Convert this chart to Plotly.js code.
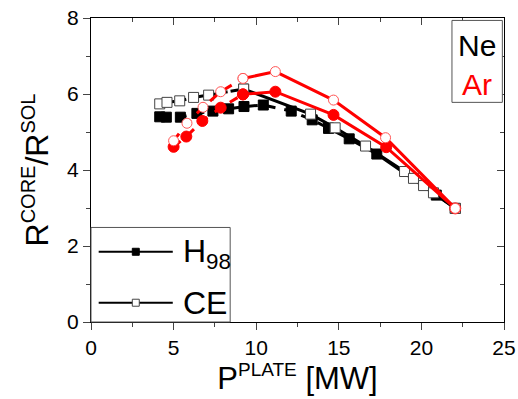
<!DOCTYPE html>
<html><head><meta charset="utf-8">
<script src="https://cdn.plot.ly/plotly-3.0.1.min.js"></script>
<style>html,body{margin:0;padding:0;background:#fff}#g{width:518px;height:399px}</style>
</head><body><div id="g"></div>
<script>
// Ne, H98 scaling (filled squares)
const neH98LowX  = [4.16,4.56,5.41,6.41,7.38,8.33,9.26,10.43,12.12,13.39,14.38];
const neH98LowY  = [5.40,5.39,5.39,5.49,5.55,5.61,5.67,5.71,5.55,5.32,5.10];
const neH98HighX = [14.38,15.63,17.3,20.9,22.05];
const neH98HighY = [5.10,4.82,4.42,3.34,2.99];
// Ne, CE (open squares)
const neCELowX  = [4.16,4.6,5.37,6.21,7.12,9.24];
const neCELowY  = [5.74,5.78,5.82,5.91,5.97,6.13];
const neCEHighX = [9.24,13.29,14.78,16.62,18.98,19.52,20.13,20.73,22.05];
const neCEHighY = [6.13,5.47,5.11,4.63,3.96,3.78,3.59,3.40,2.99];
// Ar, H98 (filled circles)
const arH98LowX  = [5.0,5.77,6.74,7.85,9.2];
const arH98LowY  = [4.61,4.88,5.29,5.64,5.99];
const arH98HighX = [9.2,11.16,14.68,17.87,22.05];
const arH98HighY = [5.99,6.06,5.45,4.60,2.99];
// Ar, CE (open circles)
const arCELowX  = [5.0,5.81,6.78,7.85,9.2];
const arCELowY  = [4.77,5.23,5.65,6.06,6.41];
const arCEHighX = [9.2,11.16,14.68,17.83,22.05];
const arCEHighY = [6.41,6.59,5.84,4.85,2.99];

const xTicks = [0,5,10,15,20,25];
const yTicks = [0,2,4,6,8];

const blk = '#000', red = '#ff0000';
function tr(x,y,color,dash,sym,fill,lc,sz){
  return {x:x,y:y,type:'scatter',mode:'lines+markers',showlegend:false,
    line:{color:color,width:3,dash:dash},
    marker:{symbol:sym,size:sz,color:fill,line:{color:lc,width:1}}};
}
const data = [
  tr(neH98LowX,neH98LowY,blk,'dash','square',blk,blk,10),
  tr(neH98HighX,neH98HighY,blk,'solid','square',blk,blk,10),
  tr(neCELowX,neCELowY,blk,'dashdot','square','#fff','#444',10),
  tr(neCEHighX,neCEHighY,blk,'solid','square','#fff','#444',10),
  tr(arH98LowX,arH98LowY,red,'dash','circle',red,red,11),
  tr(arH98HighX,arH98HighY,red,'solid','circle',red,red,11),
  tr(arCELowX,arCELowY,red,'dash','circle','#fff','#f55',10),
  tr(arCEHighX,arCEHighY,red,'solid','circle','#fff','#f55',10),
  {x:[],y:[],xaxis:'x2',yaxis:'y2',type:'scatter',showlegend:false}
];

const F = 'Liberation Sans, Arial, sans-serif';
const layout = {
  width:518,height:399,
  margin:{l:91.3,r:13.5,t:17.5,b:77,pad:0},
  paper_bgcolor:'#fff',plot_bgcolor:'#fff',
  showlegend:false,
  font:{family:F,color:'#000'},
  xaxis:{range:[0,25],tickvals:xTicks,ticktext:xTicks.map(String),ticks:'outside',ticklen:7,tickwidth:1,
    showline:true,linecolor:'#000',linewidth:1,showgrid:false,zeroline:false,
    tickfont:{size:21,family:F},
    minor:{dtick:2.5,tick0:0,ticks:'outside',ticklen:4,tickwidth:1,showgrid:false},
    title:{text:'P<sup><span style="font-size:19px">PLATE</span></sup> [MW]',font:{size:31,family:F},standoff:6}},
  yaxis:{range:[0,8],tickvals:yTicks,ticktext:yTicks.map(String),ticks:'outside',ticklen:7,tickwidth:1,
    showline:true,linecolor:'#000',linewidth:1,showgrid:false,zeroline:false,
    tickfont:{size:21,family:F},
    minor:{dtick:1,tick0:0,ticks:'outside',ticklen:4,tickwidth:1,showgrid:false},
    title:{text:'R<sup><span style="font-size:20px">CORE</span></sup>/R<sup><span style="font-size:20px">SOL</span></sup>',font:{size:32,family:F},standoff:8}},
  xaxis2:{range:[0,25],overlaying:'x',side:'top',anchor:'y2',tickvals:xTicks,showticklabels:false,ticks:'inside',ticklen:7,
    showline:true,linecolor:'#000',linewidth:1,showgrid:false,zeroline:false,
    minor:{dtick:2.5,tick0:0,ticks:'inside',ticklen:4,showgrid:false}},
  yaxis2:{range:[0,8],overlaying:'y',side:'right',anchor:'x2',tickvals:yTicks,showticklabels:false,ticks:'inside',ticklen:7,
    showline:true,linecolor:'#000',linewidth:1,showgrid:false,zeroline:false,
    minor:{dtick:1,tick0:0,ticks:'inside',ticklen:4,showgrid:false}},
  shapes:[
    {type:'rect',xref:'paper',yref:'paper',x0:0.874,x1:0.996,y0:0.7225,y1:0.992,line:{color:'#555',width:1},fillcolor:'#fff'},
    {type:'rect',xref:'paper',yref:'paper',x0:0,x1:0.337,y0:0,y1:0.311,line:{color:'#555',width:1},fillcolor:'#fff'},
    {type:'line',xref:'paper',yref:'paper',x0:0.0186,x1:0.198,y0:0.231,y1:0.231,line:{color:'#000',width:2}},
    {type:'rect',xref:'paper',yref:'paper',x0:0.1000,x1:0.1169,y0:0.2195,y1:0.2425,line:{color:'#000',width:1},fillcolor:'#000'},
    {type:'line',xref:'paper',yref:'paper',x0:0.0186,x1:0.198,y0:0.0634,y1:0.0634,line:{color:'#000',width:2}},
    {type:'rect',xref:'paper',yref:'paper',x0:0.1000,x1:0.1169,y0:0.0519,y1:0.0749,line:{color:'#444',width:1},fillcolor:'#fff'}
  ],
  annotations:[
    {xref:'paper',yref:'paper',x:0.935,y:0.91,text:'Ne',showarrow:false,font:{size:30,family:F,color:'#000'},xanchor:'center',yanchor:'middle'},
    {xref:'paper',yref:'paper',x:0.935,y:0.782,text:'Ar',showarrow:false,font:{size:30,family:F,color:red},xanchor:'center',yanchor:'middle'},
    {xref:'paper',yref:'paper',x:0.219,y:0.225,text:'H<sub>98</sub>',showarrow:false,font:{size:32,family:F,color:'#000'},xanchor:'left',yanchor:'middle'},
    {xref:'paper',yref:'paper',x:0.219,y:0.0634,text:'CE',showarrow:false,font:{size:32,family:F,color:'#000'},xanchor:'left',yanchor:'middle'}
  ]
};
Plotly.newPlot('g',data,layout,{displayModeBar:false,staticPlot:true});
</script></body></html>
